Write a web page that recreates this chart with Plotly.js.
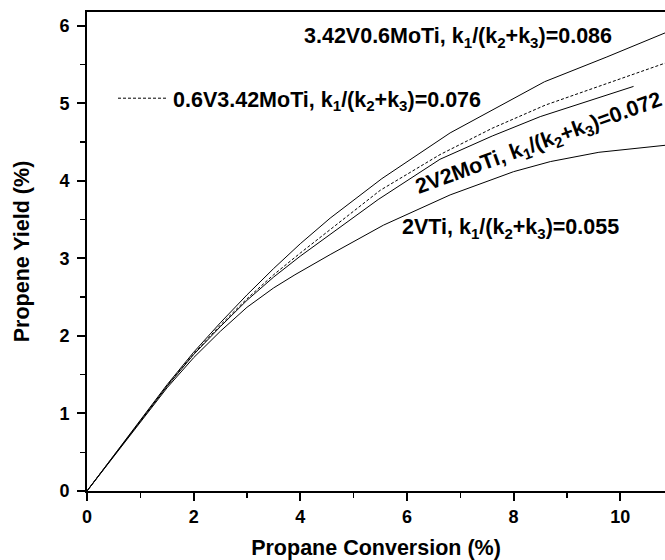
<!DOCTYPE html>
<html>
<head>
<meta charset="utf-8">
<script src="https://cdn.plot.ly/plotly-3.0.1.min.js"></script>
<style>html,body{margin:0;padding:0;overflow:hidden;background:#fff}</style>
</head>
<body>
<div id="chart" style="width:665px;height:560px"></div>
<script>
// Propane conversion (%) / propene yield (%) for each catalyst
const xV342Mo06 = [0, 1, 1.5, 2, 2.5, 3, 3.5, 4, 4.56, 5.53, 6.81, 8.58, 9.75, 10.84];
const yV342Mo06 = [0, 0.92, 1.37, 1.79, 2.17, 2.53, 2.87, 3.19, 3.52, 4.03, 4.62, 5.28, 5.60, 5.91];

const xV06Mo342 = [0, 1, 1.5, 2, 2.5, 3, 3.5, 4, 4.56, 5.5, 6.62, 7.6, 8.6, 9.75, 10.84];
const yV06Mo342 = [0, 0.91, 1.36, 1.77, 2.14, 2.48, 2.79, 3.07, 3.37, 3.88, 4.34, 4.68, 4.98, 5.26, 5.52];

const xV2Mo2 = [0, 1, 1.5, 2, 2.5, 3, 3.5, 4, 4.56, 5.46, 6.62, 7.6, 8.5, 10.25];
const yV2Mo2 = [0, 0.91, 1.35, 1.76, 2.12, 2.46, 2.76, 3.03, 3.31, 3.76, 4.28, 4.58, 4.83, 5.22];

const xV2 = [0, 1, 1.5, 2, 2.5, 3, 3.5, 3.9, 4.56, 5.56, 6.81, 8.0, 8.69, 9.6, 10.84];
const yV2 = [0, 0.89, 1.33, 1.72, 2.06, 2.37, 2.62, 2.79, 3.05, 3.43, 3.82, 4.12, 4.25, 4.37, 4.46];

const labelV342Mo06 = "3.42V0.6MoTi, k<sub>1</sub>/(k<sub>2</sub>+k<sub>3</sub>)=0.086";
const labelV06Mo342 = "0.6V3.42MoTi, k<sub>1</sub>/(k<sub>2</sub>+k<sub>3</sub>)=0.076";
const labelV2Mo2 = "2V2MoTi, k<sub>1</sub>/(k<sub>2</sub>+k<sub>3</sub>)=0.072";
const labelV2 = "2VTi, k<sub>1</sub>/(k<sub>2</sub>+k<sub>3</sub>)=0.055";

const xTitle = "Propane Conversion (%)";
const yTitle = "Propene Yield (%)";

const FONT = "Liberation Sans Narrow, Arial Narrow, Liberation Sans, Arial, sans-serif";
const LBL = 21.5;

const traces = [
  {x: xV342Mo06, y: yV342Mo06, mode: "lines", line: {color: "#000", width: 1}, showlegend: false, name: "3.42V0.6MoTi"},
  {x: xV06Mo342, y: yV06Mo342, mode: "lines", line: {color: "#000", width: 1, dash: "3px,2px"}, showlegend: true, name: labelV06Mo342},
  {x: xV2Mo2, y: yV2Mo2, mode: "lines", line: {color: "#000", width: 1}, showlegend: false, name: "2V2MoTi"},
  {x: xV2, y: yV2, mode: "lines", line: {color: "#000", width: 1}, showlegend: false, name: "2VTi"}
];

const layout = {
  width: 665, height: 560,
  margin: {l: 87, r: 0, t: 12, b: 69},
  paper_bgcolor: "#fff", plot_bgcolor: "#fff",
  font: {family: FONT, color: "#000", size: 18, weight: "bold"},
  showlegend: true,
  legend: {x: 0.045, y: 0.82, xanchor: "left", yanchor: "middle", bgcolor: "rgba(0,0,0,0)",
           font: {family: FONT, size: LBL, weight: "bold", color: "#000"}, itemwidth: 50},
  xaxis: {
    range: [0, 10.84], showgrid: false, zeroline: false,
    showline: true, linecolor: "#000", linewidth: 2, mirror: true,
    ticks: "outside", ticklen: 8, tickwidth: 2, tickcolor: "#000", dtick: 2, tick0: 0,
    minor: {dtick: 1, ticklen: 5, tickwidth: 1.5, tickcolor: "#000", ticks: "outside"},
    tickfont: {family: FONT, size: 18, weight: "bold"},
    title: {text: xTitle, font: {family: FONT, size: 21.5, weight: "bold"}, standoff: 18}
  },
  yaxis: {
    range: [0, 6.18], showgrid: false, zeroline: false,
    showline: true, linecolor: "#000", linewidth: 2, mirror: false,
    ticks: "outside", ticklen: 8, tickwidth: 2, tickcolor: "#000", dtick: 1, tick0: 0,
    minor: {dtick: 0.5, ticklen: 5, tickwidth: 1.5, tickcolor: "#000", ticks: "outside"},
    tickfont: {family: FONT, size: 18, weight: "bold"}, ticklabelstandoff: 4,
    title: {text: yTitle, font: {family: FONT, size: 21.5, weight: "bold"}, standoff: 24}
  },
  annotations: [
    {x: 6.96, y: 5.85, xref: "x", yref: "y", text: labelV342Mo06, showarrow: false,
     font: {family: FONT, size: LBL, weight: "bold"}},
    {x: 8.47, y: 4.47, xref: "x", yref: "y", text: labelV2Mo2, showarrow: false, textangle: -20,
     font: {family: FONT, size: LBL, weight: "bold"}},
    {x: 7.94, y: 3.39, xref: "x", yref: "y", text: labelV2, showarrow: false,
     font: {family: FONT, size: LBL, weight: "bold"}}
  ]
};

Plotly.newPlot("chart", traces, layout, {displayModeBar: false, staticPlot: true});
</script>
</body>
</html>
